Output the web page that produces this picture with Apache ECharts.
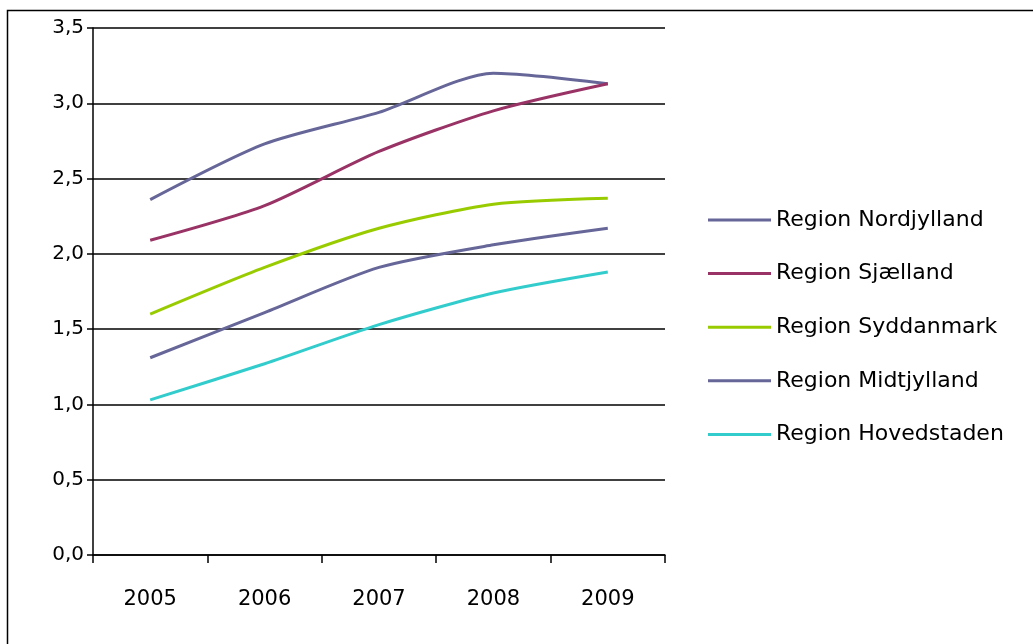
<!DOCTYPE html>
<html>
<head>
<meta charset="utf-8">
<script src="https://cdn.jsdelivr.net/npm/echarts@6/dist/echarts.min.js"></script>
<style>
  html, body { margin: 0; padding: 0; background: #fff; }
  #chart { width: 1033px; height: 644px; }
</style>
</head>
<body>
<div id="chart"></div>
<script>
// Years on the category axis
const years = ['2005', '2006', '2007', '2008', '2009'];

// Region names (legend order)
const regionNames = [
  'Region Nordjylland',
  'Region Sjælland',
  'Region Syddanmark',
  'Region Midtjylland',
  'Region Hovedstaden'
];

// Values per region, 2005–2009
const nordjylland = [2.36, 2.73, 2.94, 3.20, 3.13];
const sjaelland   = [2.09, 2.32, 2.68, 2.95, 3.13];
const syddanmark  = [1.60, 1.91, 2.17, 2.33, 2.37];
const midtjylland = [1.31, 1.61, 1.91, 2.06, 2.17];
const hovedstaden = [1.03, 1.27, 1.53, 1.74, 1.88];

// Line colours
const regionColors = ['#666699', '#993366', '#99CC00', '#666699', '#33CCCC'];

const seriesValues = [nordjylland, sjaelland, syddanmark, midtjylland, hovedstaden];

const chart = echarts.init(document.getElementById('chart'), null, { renderer: 'canvas' });

const font = 'DejaVu Sans';

chart.setOption({
  animation: false,
  backgroundColor: '#ffffff',
  color: regionColors,
  // Outer chart-area frame
  graphic: [{
    type: 'rect',
    left: 5,
    top: 8,
    shape: { width: 1100, height: 700 },
    style: { fill: 'none', stroke: '#000', lineWidth: 1.5 },
    silent: true
  }],
  grid: { left: 93, top: 28, right: 368, bottom: 89, containLabel: false },
  legend: {
    orient: 'vertical',
    left: 703,
    top: 203,
    icon: 'rect',
    itemWidth: 63,
    itemHeight: 3,
    itemGap: 29.6,
    data: regionNames,
    textStyle: { fontFamily: font, fontSize: 22, color: '#000', lineHeight: 24 }
  },
  xAxis: {
    type: 'category',
    data: years,
    boundaryGap: true,
    axisLine: { show: true, lineStyle: { color: '#000', width: 1.5 } },
    axisTick: { show: true, length: 8, lineStyle: { color: '#000', width: 1.5 } },
    axisLabel: { margin: 34, color: '#000', fontFamily: font, fontSize: 21 },
    splitLine: { show: false }
  },
  yAxis: {
    type: 'value',
    min: 0,
    max: 3.5,
    interval: 0.5,
    axisLine: { show: true, lineStyle: { color: '#000', width: 1.5 } },
    axisTick: { show: true, length: 6, lineStyle: { color: '#000', width: 1.5 } },
    axisLabel: {
      margin: 9,
      color: '#000',
      fontFamily: font,
      fontSize: 20,
      formatter: v => v.toFixed(1).replace('.', ',')
    },
    splitLine: { show: true, lineStyle: { color: '#000', width: 1.5 } }
  },
  series: regionNames.map((name, i) => ({
    name: name,
    type: 'line',
    data: seriesValues[i],
    smooth: 0.25,
    showSymbol: false,
    symbol: 'none',
    lineStyle: { width: 3, color: regionColors[i] },
    itemStyle: { color: regionColors[i] }
  }))
});
</script>
</body>
</html>
